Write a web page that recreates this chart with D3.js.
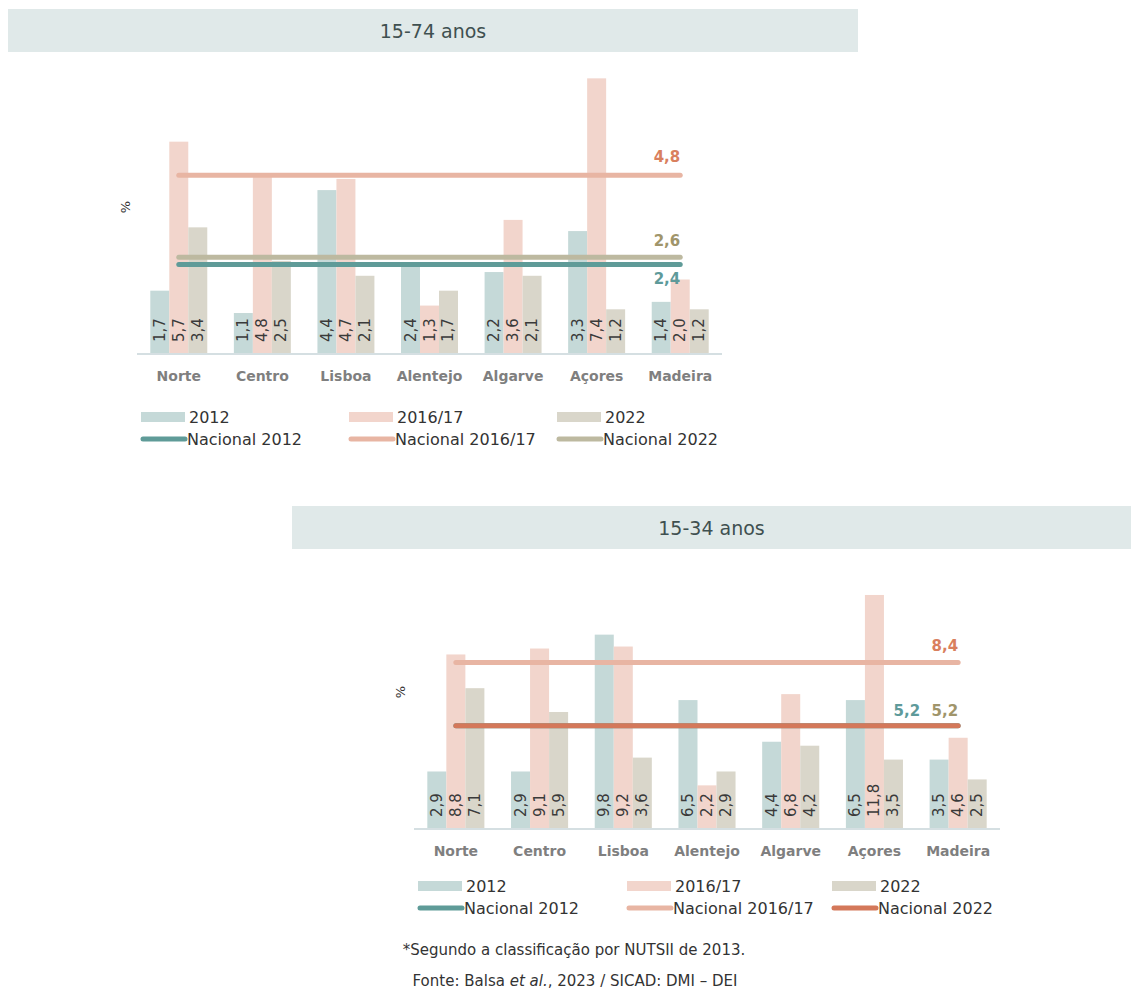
<!DOCTYPE html>
<html><head><meta charset="utf-8">
<script src="https://cdn.jsdelivr.net/npm/d3@7"></script>
<style>
html,body{margin:0;padding:0;background:#fff;}
svg{display:block;font-family:"DejaVu Sans",sans-serif;}
</style></head>
<body>
<svg id="chart" width="1131" height="991"></svg>
<script>
// ---------- data ----------
const categories = ["Norte","Centro","Lisboa","Alentejo","Algarve","Açores","Madeira"];
const seriesNames = ["2012","2016/17","2022"];
const nationalNames = ["Nacional 2012","Nacional 2016/17","Nacional 2022"];

const a1574_2012 = [1.7,1.1,4.4,2.4,2.2,3.3,1.4];
const a1574_2016 = [5.7,4.8,4.7,1.3,3.6,7.4,2.0];
const a1574_2022 = [3.4,2.5,2.1,1.7,2.1,1.2,1.2];
const nat1574 = [2.4,4.8,2.6];

const a1534_2012 = [2.9,2.9,9.8,6.5,4.4,6.5,3.5];
const a1534_2016 = [8.8,9.1,9.2,2.2,6.8,11.8,4.6];
const a1534_2022 = [7.1,5.9,3.6,2.9,4.2,3.5,2.5];
const nat1534 = [5.2,8.4,5.2];

const barColors = ["#c5d9d8","#f2d5cc","#d9d6ca"];
const fmt = v => d3.format(".1f")(v).replace(".", ",");

const svg = d3.select("#chart");

function drawPanel(cfg){
  const g = svg.append("g");
  // title band
  g.append("rect").attr("x",cfg.band[0]).attr("y",cfg.band[1]).attr("width",cfg.band[2]).attr("height",cfg.band[3]).attr("fill","#e0e9e9");
  g.append("text").attr("x",cfg.band[0]+cfg.band[2]/2).attr("y",cfg.band[1]+cfg.band[3]/2)
    .attr("text-anchor","middle").attr("dominant-baseline","central")
    .attr("font-size",19).attr("fill","#3f5050").text(cfg.title);

  const x0 = d3.scaleBand().domain(categories).range([cfg.left,cfg.right]).padding(0);
  const x1 = d3.scaleBand().domain(seriesNames).range([0,x0.bandwidth()]).paddingInner(0).paddingOuter(0.7);
  const y = d3.scaleLinear().domain([0,cfg.ymax]).range([cfg.base,cfg.top]);

  const data = categories.map((c,i)=>({cat:c, vals:cfg.values.map(s=>s[i])}));

  const groups = g.append("g").selectAll("g").data(data).join("g")
    .attr("transform",d=>`translate(${x0(d.cat)},0)`);
  groups.selectAll("rect").data(d=>d.vals.map((v,k)=>({v,k}))).join("rect")
    .attr("x",d=>x1(seriesNames[d.k])).attr("width",x1.bandwidth())
    .attr("y",d=>y(d.v)).attr("height",d=>y(0)-y(d.v))
    .attr("fill",d=>barColors[d.k]);

  // axis line
  g.append("line").attr("x1",cfg.left).attr("x2",cfg.right).attr("y1",y(0)).attr("y2",y(0))
    .attr("stroke","#d5dfe2").attr("stroke-width",2);

  // category labels
  const xAxis = d3.axisBottom(x0).tickSize(0).tickPadding(17);
  const ax = g.append("g").attr("transform",`translate(0,${y(0)})`).call(xAxis);
  ax.select(".domain").remove();
  ax.selectAll("text").attr("font-family","DejaVu Sans").attr("font-size",14).attr("font-weight","bold").attr("fill","#7f7f7f");

  // national lines
  const xs = x0(categories[0])+x0.bandwidth()/2, xe = x0(categories[categories.length-1])+x0.bandwidth()/2;
  cfg.natOrder.forEach(k=>{
    g.append("line").attr("x1",xs).attr("x2",xe).attr("y1",y(cfg.nat[k])).attr("y2",y(cfg.nat[k]))
      .attr("stroke",cfg.natColors[k]).attr("stroke-width",5).attr("stroke-linecap","round");
  });
  cfg.natLabels.forEach(L=>{
    g.append("text").attr("x",xe+L.dx).attr("y",y(cfg.nat[L.k])+L.dy)
      .attr("text-anchor","end").attr("dominant-baseline","central")
      .attr("font-size",15).attr("font-weight","bold").attr("fill",L.color).text(fmt(cfg.nat[L.k]));
  });

  // value labels
  groups.selectAll("text.val").data(d=>d.vals.map((v,k)=>({v,k}))).join("text").attr("class","val")
    .attr("transform",d=>`translate(${x1(seriesNames[d.k])+x1.bandwidth()/2},${y(0)-12}) rotate(-90)`)
    .attr("dominant-baseline","central").attr("font-size",15).attr("fill","#3a3a3a")
    .text(d=>fmt(d.v));

  // % label
  g.append("text").attr("transform",`translate(${cfg.pct[0]},${cfg.pct[1]}) rotate(-90)`)
    .attr("text-anchor","middle").attr("dominant-baseline","central")
    .attr("font-size",13).attr("fill","#333").text("%");

  // legend
  const lg = g.append("g");
  seriesNames.forEach((s,k)=>{
    const lx = cfg.legX[k];
    lg.append("rect").attr("x",lx).attr("y",cfg.legY-5).attr("width",44).attr("height",10).attr("fill",barColors[k]);
    lg.append("text").attr("x",lx+48).attr("y",cfg.legY).attr("dominant-baseline","central")
      .attr("font-size",16).attr("fill","#333").text(s);
    lg.append("line").attr("x1",lx+2).attr("x2",lx+44).attr("y1",cfg.legY+22).attr("y2",cfg.legY+22)
      .attr("stroke",cfg.natColors[k]).attr("stroke-width",5).attr("stroke-linecap","round");
    lg.append("text").attr("x",lx+46).attr("y",cfg.legY+22).attr("dominant-baseline","central")
      .attr("font-size",16).attr("fill","#333").text(nationalNames[k]);
  });
}

drawPanel({
  title:"15-74 anos", band:[8,9,850,43],
  left:137, right:722, base:354, top:56, ymax:8,
  values:[a1574_2012,a1574_2016,a1574_2022], nat:nat1574,
  natColors:["#5f9b98","#e8b5a3","#bdb9a0"], natOrder:[1,2,0],
  natLabels:[{k:1,dx:0,dy:-18,color:"#d9805e"},{k:2,dx:0,dy:-16,color:"#a0956b"},{k:0,dx:0,dy:14,color:"#5e9a9a"}],
  pct:[125,207], legX:[141,349,557], legY:417
});

drawPanel({
  title:"15-34 anos", band:[292,506,839,43],
  left:414, right:1000, base:829, top:591, ymax:12,
  values:[a1534_2012,a1534_2016,a1534_2022], nat:nat1534,
  natColors:["#5f9b98","#e8b5a3","#d4785a"], natOrder:[0,1,2],
  natLabels:[{k:1,dx:0,dy:-16,color:"#d9805e"},{k:2,dx:0,dy:-15,color:"#a0956b"},{k:0,dx:-38,dy:-15,color:"#5e9a9a"}],
  pct:[400,692], legX:[418,627,832], legY:886
});

// footer
svg.append("text").attr("x",574).attr("y",950).attr("text-anchor","middle").attr("dominant-baseline","central")
  .attr("font-size",15).attr("fill","#333").text("*Segundo a classificação por NUTSII de 2013.");
const f = svg.append("text").attr("x",575).attr("y",981).attr("text-anchor","middle").attr("dominant-baseline","central")
  .attr("font-size",15).attr("fill","#333");
f.append("tspan").text("Fonte: Balsa ");
f.append("tspan").attr("font-style","italic").text("et al.");
f.append("tspan").text(", 2023 / SICAD: DMI – DEI");
</script>
</body></html>
